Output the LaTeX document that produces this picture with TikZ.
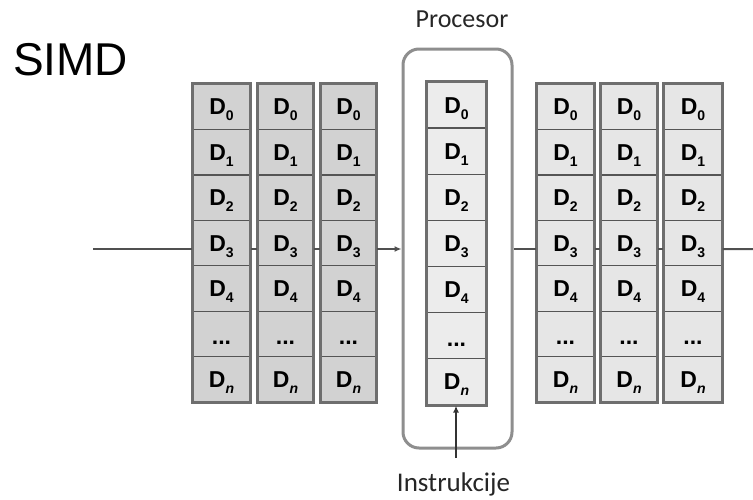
\documentclass[tikz,border=0pt]{standalone}
\usepackage{fontspec}
\setmainfont{Liberation Sans}
\newfontfamily\calib{Carlito}
\usetikzlibrary{arrows.meta}
\definecolor{darkcell}{HTML}{D2D2D2}
\definecolor{lightcell}{HTML}{E6E6E6}
\definecolor{midcell}{HTML}{ECECEC}
\definecolor{framecol}{HTML}{6E6E6E}
\definecolor{divider}{HTML}{555555}
\definecolor{procframe}{HTML}{8E8E8E}
\definecolor{linkcol}{HTML}{505050}
\newcommand\dsub[1]{\raisebox{-0.5ex}{\fontsize{14}{14}\selectfont #1}}
\begin{document}
\begin{tikzpicture}[x=1pt,y=-1pt,
  cell/.style={minimum height=45.43pt, inner sep=0pt, draw=divider, line width=1.3pt,
    text height=16pt, text depth=0pt,
    font=\fontsize{23}{23}\selectfont\bfseries},
  colframe/.style={draw=framecol, line width=2.8pt},
  link/.style={draw=linkcol, line width=2pt},
  tip/.style={-{Latex[length=7pt,width=6pt]}},
  label/.style={font=\calib\fontsize{26}{26}\selectfont, text=black!85, inner sep=0pt}
]
\useasboundingbox (0,0) rectangle (753,499);
% SIMD title
\node[anchor=base west, inner sep=0pt, font=\fontsize{46}{46}\selectfont] (title) at (13,75) {SIMD};
% processor frame
\node[draw=procframe, line width=3pt, rounded corners=16pt, minimum width=109pt,
      minimum height=399pt, inner sep=0pt] (proc) at (457.5,248.5) {};
% columns
\foreach \nm/\xl/\xr/\fc/\tp/\h in {a/193/250/darkcell/84/45.43, b/258/313/darkcell/84/45.43,
    c/321/376/darkcell/84/45.43, d/427/486/midcell/82/46.14, e/537/594/lightcell/84/45.43,
    f/601/657/lightcell/84/45.43, g/664/722/lightcell/84/45.43}{
  \pgfmathsetmacro\w{\xr-\xl}
  \pgfmathsetmacro\cx{(\xr+\xl)/2}
  \foreach \r/\lab in {0/{D\dsub{0}}, 1/{D\dsub{1}}, 2/{D\dsub{2}}, 3/{D\dsub{3}},
      4/{D\dsub{4}}, 5/{\raisebox{-3pt}{...}}, 6/{D\dsub{\itshape n}}}{
    \pgfmathsetmacro\cy{\tp+\h*(\r+0.5)}
    \node[cell, fill=\fc, minimum width=\w pt, minimum height=\h pt] (\nm\r) at (\cx,\cy) {\lab};
  }
  \draw[colframe] (\nm0.north west) rectangle (\nm6.south east);
}
% data path
\coordinate (in) at (93,249);
\coordinate (out) at (753,249);
\draw[link] (in) -- (in -| a3.west);
\draw[link] ([yshift=-6pt]a3.east) -- ([yshift=-6pt]b3.west);
\draw[link] ([yshift=-6pt]b3.east) -- ([yshift=-6pt]c3.west);
\draw[link, tip] ([yshift=-6pt]c3.east) -- ([yshift=-6pt]c3.east -| proc.west);
\draw[link] ([yshift=-6pt]e3.west -| proc.east) -- ([yshift=-6pt]e3.west);
\draw[link] ([yshift=-6pt]e3.east) -- ([yshift=-6pt]f3.west);
\draw[link] ([yshift=-6pt]f3.east) -- ([yshift=-6pt]g3.west);
\draw[link] ([yshift=-6pt]g3.east) -- (out);
% instruction arrow
\coordinate (instr) at (456,458);
\draw[draw=black!80, line width=2.4pt, tip] (instr) -- (instr |- d6.south);
% labels
\node[label, anchor=base] (proclab) at (462,27) {Procesor};
\node[label, anchor=base, font=\calib\fontsize{27}{27}\selectfont] (instrlab) at (453.5,491) {Instrukcije};
\end{tikzpicture}
\end{document}
